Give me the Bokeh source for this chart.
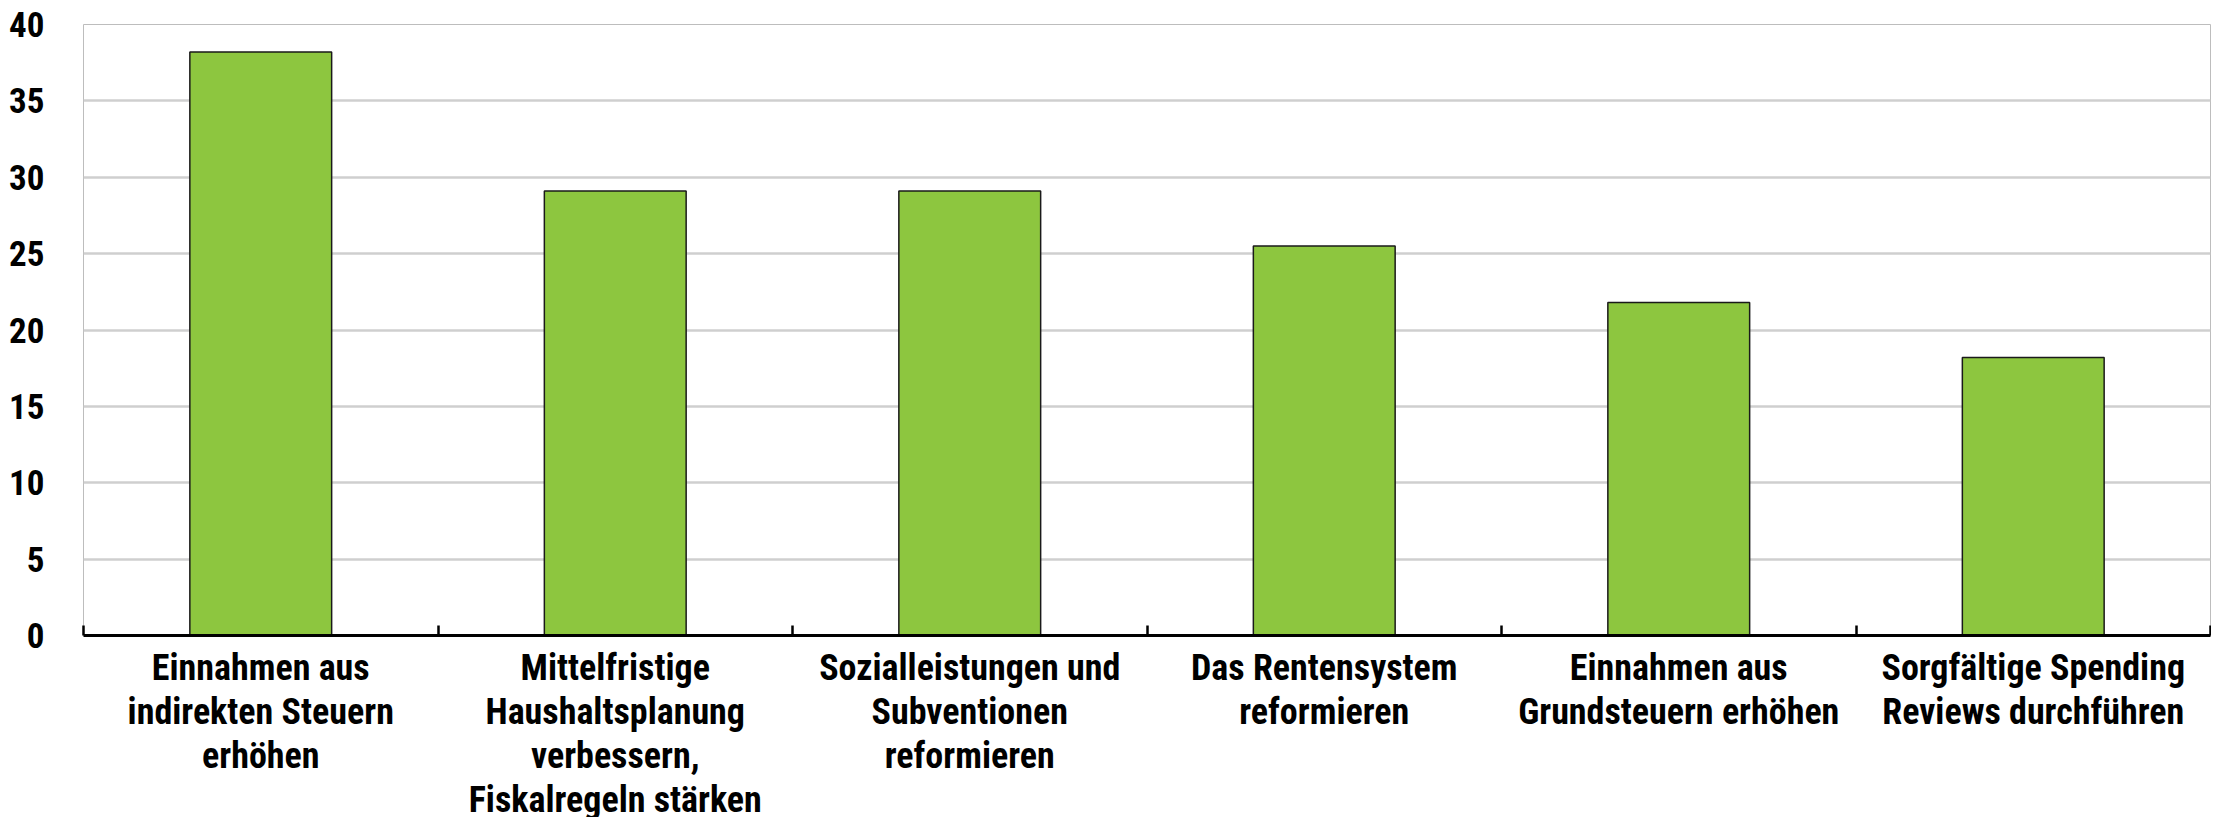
from bokeh.plotting import figure
from bokeh.models import Range1d, FixedTicker, ColumnDataSource
from bokeh.embed import file_html
from bokeh.resources import INLINE

categories = [
    "Einnahmen aus\nindirekten Steuern\nerhöhen",
    "Mittelfristige\nHaushaltsplanung\nverbessern,\nFiskalregeln stärken",
    "Sozialleistungen und\nSubventionen\nreformieren",
    "Das Rentensystem\nreformieren",
    "Einnahmen aus\nGrundsteuern erhöhen",
    "Sorgfältige Spending\nReviews durchführen",
]
values = [38.2, 29.1, 29.1, 25.5, 21.8, 18.2]
y_ticks = [0, 5, 10, 15, 20, 25, 30, 35, 40]

FONT = "'Liberation Sans Narrow', 'Arial Narrow', 'Roboto Condensed', 'DejaVu Sans Condensed', sans-serif"

n = len(categories)
centers = [i + 0.5 for i in range(n)]
src = ColumnDataSource(dict(x=centers, top=values))

p = figure(
    frame_width=2127, frame_height=611,
    min_border_left=83, min_border_right=1, min_border_top=24, min_border_bottom=160,
    x_range=Range1d(0, n), y_range=Range1d(0, 40),
    output_backend="svg", toolbar_location=None,
)
p.background_fill_color = "white"
p.border_fill_color = "white"
p.outline_line_color = "#bdbdbd"
p.outline_line_width = 1

p.vbar(x="x", top="top", bottom=0, width=0.4, source=src,
       fill_color="#8DC63F", line_color="#1a1a1a", line_width=1.5)

# y axis
yax = p.yaxis[0]
yax.ticker = FixedTicker(ticks=y_ticks)
yax.axis_line_color = None
yax.major_tick_line_color = None
yax.minor_tick_line_color = None
yax.major_label_text_font = FONT
yax.major_label_text_font_style = "bold"
yax.major_label_text_font_size = "35px"
yax.major_label_text_color = "black"
yax.major_label_standoff = 33

# x axis
xax = p.xaxis[0]
xax.ticker = FixedTicker(ticks=centers, minor_ticks=list(range(n + 1)))
xax.major_label_overrides = {c: lab for c, lab in zip(centers, categories)}
xax.axis_line_color = "black"
xax.axis_line_width = 3
xax.major_tick_line_color = None
xax.minor_tick_line_color = "black"
xax.minor_tick_line_width = 2.5
xax.minor_tick_in = 10
xax.minor_tick_out = 0
xax.major_label_text_font = FONT
xax.major_label_text_font_style = "bold"
xax.major_label_text_font_size = "36px"
xax.major_label_text_line_height = 1.05
xax.major_label_text_color = "black"
xax.major_label_standoff = 5

p.xgrid.grid_line_color = None
p.ygrid.ticker = FixedTicker(ticks=y_ticks[1:])
p.ygrid.grid_line_color = "#cfcfcf"
p.ygrid.grid_line_width = 2.5

open("out.html", "w").write(file_html(p, INLINE))
